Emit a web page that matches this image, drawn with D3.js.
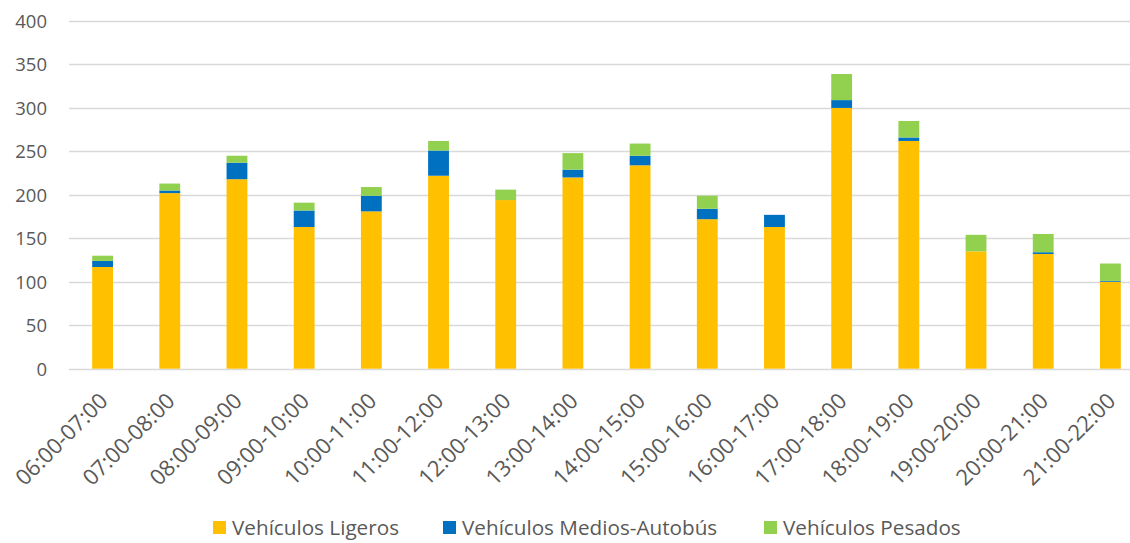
<!DOCTYPE html>
<html>
<head>
<meta charset="utf-8">
<script src="https://d3js.org/d3.v7.min.js"></script>
<style>
  body { margin: 0; background: #fff; }
  svg text { font-family: 'Open Sans', sans-serif; fill: #595959; }
</style>
</head>
<body>
<div id="chart"></div>
<script>
// data
var franjas = ["06:00-07:00", "07:00-08:00", "08:00-09:00", "09:00-10:00", "10:00-11:00",
  "11:00-12:00", "12:00-13:00", "13:00-14:00", "14:00-15:00", "15:00-16:00", "16:00-17:00",
  "17:00-18:00", "18:00-19:00", "19:00-20:00", "20:00-21:00", "21:00-22:00"];
var ligeros = [117, 202, 218, 163, 181, 222, 194, 220, 234, 172, 163, 300, 262, 135, 132, 100];
var medios  = [7, 3, 19, 19, 18, 29, 0, 9, 11, 12, 14, 9, 4, 0, 2, 1];
var pesados = [6, 8, 8, 9, 10, 11, 12, 19, 14, 15, 0, 30, 19, 19, 21, 20];
var series = ["Vehículos Ligeros", "Vehículos Medios-Autobús", "Vehículos Pesados"];
var colores = ["#FFC000", "#0070C0", "#92D050"];
var yTicks = [0, 50, 100, 150, 200, 250, 300, 350, 400];

var width = 1130, height = 543;

var svg = d3.select("#chart").append("svg")
  .attr("width", width)
  .attr("height", height);

var rows = franjas.map(function (f, i) {
  return { franja: f, a: ligeros[i], b: medios[i], c: pesados[i] };
});
var stack = d3.stack().keys(["a", "b", "c"])(rows);

var x = d3.scaleBand()
  .domain(franjas)
  .range([69, 1144])
  .paddingInner(0.69)
  .paddingOuter(0.345);

var y = d3.scaleLinear()
  .domain([0, 400])
  .range([368.7, 21]);

// gridlines
svg.append("g")
  .selectAll("line")
  .data(yTicks)
  .enter().append("line")
  .attr("x1", 69)
  .attr("x2", width)
  .attr("y1", function (d) { return Math.round(y(d)) + 0.5; })
  .attr("y2", function (d) { return Math.round(y(d)) + 0.5; })
  .attr("stroke", "#d9d9d9")
  .attr("stroke-width", 1.5);

// y axis labels
var yAxis = svg.append("g")
  .attr("transform", "translate(47,0)")
  .call(d3.axisLeft(y).tickValues(yTicks).tickSize(0).tickPadding(0));
yAxis.select(".domain").remove();
yAxis.selectAll("text")
  .style("font-size", "18.5px")
  .attr("fill", "#595959")
  .attr("dy", "0.35em");

// bars
svg.append("g")
  .selectAll("g")
  .data(stack)
  .enter().append("g")
  .attr("fill", function (d, i) { return colores[i]; })
  .selectAll("rect")
  .data(function (d) { return d; })
  .enter().append("rect")
  .attr("x", function (d) { return x(d.data.franja); })
  .attr("width", x.bandwidth())
  .attr("y", function (d) { return y(d[1]); })
  .attr("height", function (d) { return y(d[0]) - y(d[1]); });

// x axis labels
var xAxis = svg.append("g")
  .attr("transform", "translate(0,370)")
  .call(d3.axisBottom(x).tickSize(0).tickPadding(0));
xAxis.select(".domain").remove();
xAxis.selectAll("text")
  .style("font-size", "22px")
  .attr("fill", "#595959")
  .attr("text-anchor", "end")
  .attr("y", 0)
  .attr("dy", "0.35em")
  .attr("transform", "translate(1,27) rotate(-45)");

// legend
var legendX = [213, 443, 764];
var legend = svg.append("g")
  .selectAll("g")
  .data(series)
  .enter().append("g")
  .attr("transform", function (d, i) { return "translate(" + legendX[i] + ",521)"; });
legend.append("rect")
  .attr("width", 13)
  .attr("height", 13)
  .attr("fill", function (d, i) { return colores[i]; });
legend.append("text")
  .attr("x", 19)
  .attr("y", 7)
  .attr("dy", "0.35em")
  .style("font-size", "20.7px")
  .text(function (d) { return d; });
</script>
</body>
</html>
